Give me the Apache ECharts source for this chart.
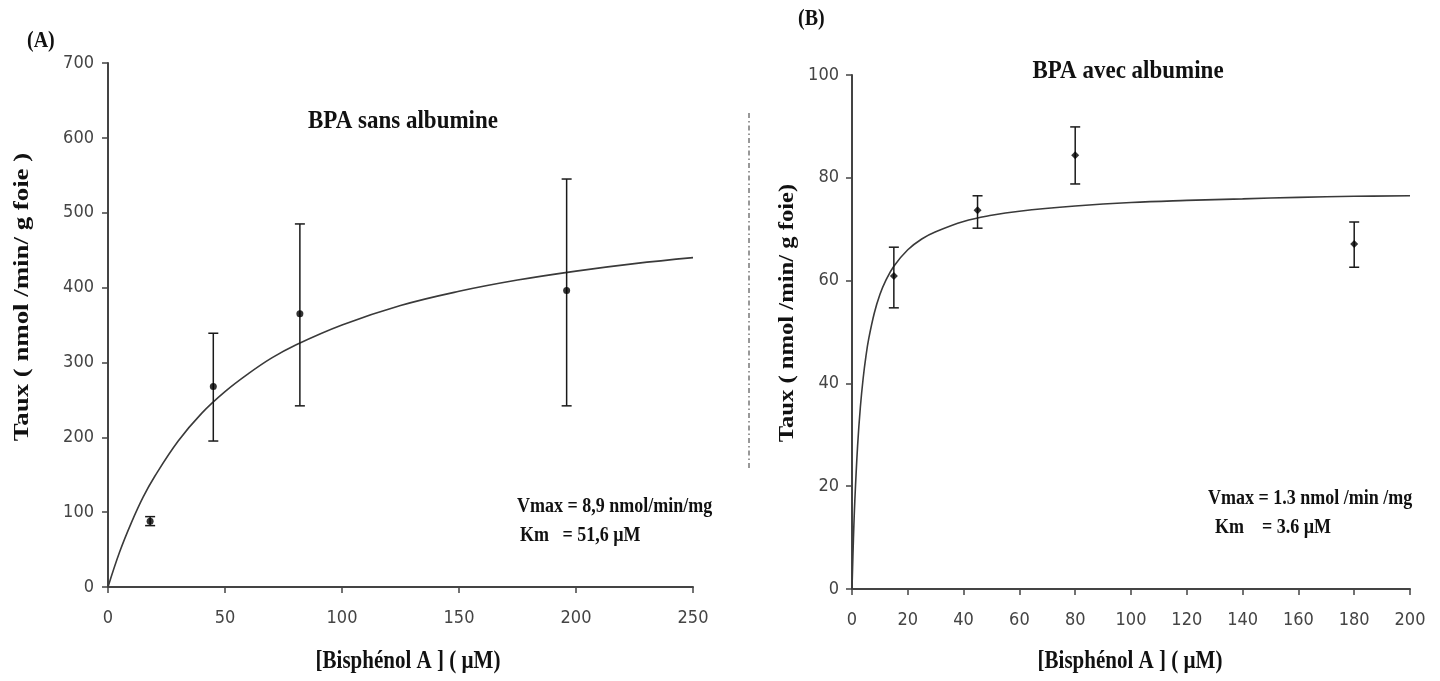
<!DOCTYPE html>
<html>
<head>
<meta charset="utf-8">
<script src="https://cdn.jsdelivr.net/npm/echarts@6/dist/echarts.min.js"></script>
<style>
html,body{margin:0;padding:0;background:#fff;}
#chart{width:1440px;height:681px;}
</style>
</head>
<body>
<div id="chart"></div>
<script>
// ---- Panel A : BPA sans albumine ----
const aPointX = [18, 45, 82, 196];
const aPointY = [88, 268, 365, 396];
const aErrLow = [82, 195, 242, 242];
const aErrHigh = [94, 339, 485, 545];
const aCurveX = [0, 5, 10, 15, 20, 30, 40, 50, 60, 70, 80, 100, 125, 150, 175, 200, 225, 250];
const aCurveY = [0, 47, 86, 120, 148, 195, 232, 261, 285, 306, 323, 350, 376, 395, 410, 422, 432, 440];
const aXTicks = [0, 50, 100, 150, 200, 250];
const aYTicks = [0, 100, 200, 300, 400, 500, 600, 700];

// ---- Panel B : BPA avec albumine ----
const bPointX = [15, 45, 80, 180];
const bPointY = [60.9, 73.7, 84.4, 67.1];
const bErrLow = [54.7, 70.2, 78.8, 62.6];
const bErrHigh = [66.5, 76.5, 89.9, 71.4];
const bCurveX = [0, 0.5, 1, 2, 3, 4, 5, 6, 8, 10, 12, 15, 20, 25, 30, 40, 50, 60, 80, 100, 120, 140, 160, 180, 200];
const bCurveY = [0, 9.5, 17, 27.8, 35.4, 41, 45.3, 48.7, 53.7, 57.3, 59.9, 62.8, 66, 68.1, 69.5, 71.5, 72.7, 73.5, 74.5, 75.2, 75.6, 75.9, 76.2, 76.4, 76.5];
const bXTicks = [0, 20, 40, 60, 80, 100, 120, 140, 160, 180, 200];
const bYTicks = [0, 20, 40, 60, 80, 100];

const tickFont = '"Liberation Sans Narrow","Arial Narrow","DejaVu Sans Condensed","Liberation Sans",sans-serif';
const serif = '"Liberation Serif","Times New Roman",serif';
const axisColor = '#444444';

function zip(xs, ys) { return xs.map((x, i) => [x, ys[i]]); }
function errData(xs, lo, hi) { return xs.map((x, i) => [x, lo[i], hi[i]]); }

function axisCfg(idx, ticks, margin) {
  return {
    type: 'value', gridIndex: idx,
    min: ticks[0], max: ticks[ticks.length - 1], interval: ticks[1] - ticks[0],
    axisLine: { show: true, onZero: false, lineStyle: { color: axisColor, width: 2 } },
    axisTick: { show: true, length: 6, lineStyle: { color: axisColor, width: 1.5 } },
    axisLabel: { color: '#444', fontFamily: tickFont, fontSize: 18, margin: margin },
    splitLine: { show: false }
  };
}

function errorSeries(idx, data) {
  return {
    type: 'custom', xAxisIndex: idx, yAxisIndex: idx, z: 3,
    data: data,
    renderItem: function (params, api) {
      const x = api.value(0);
      const lo = api.coord([x, api.value(1)]);
      const hi = api.coord([x, api.value(2)]);
      const cap = 5;
      const st = { stroke: '#1a1a1a', lineWidth: 1.5 };
      return {
        type: 'group',
        children: [
          { type: 'line', shape: { x1: lo[0], y1: lo[1], x2: hi[0], y2: hi[1] }, style: st },
          { type: 'line', shape: { x1: lo[0] - cap, y1: lo[1], x2: lo[0] + cap, y2: lo[1] }, style: st },
          { type: 'line', shape: { x1: hi[0] - cap, y1: hi[1], x2: hi[0] + cap, y2: hi[1] }, style: st }
        ]
      };
    }
  };
}

const chart = echarts.init(document.getElementById('chart'), null, { renderer: 'canvas' });

const boldSerif = (size) => ({ fontFamily: serif, fontWeight: 'bold', fontSize: size, fill: '#111' });
function txt(text, x, y, size, opts) {
  const o = opts || {};
  return {
    type: 'text', x: x, y: y,
    rotation: o.rotation || 0, scaleX: o.scaleX || 1, scaleY: o.scaleY || 1,
    style: Object.assign({ text: text, align: o.align || 'left', verticalAlign: 'middle' }, boldSerif(size))
  };
}

chart.setOption({
  animation: false,
  backgroundColor: '#ffffff',
  grid: [
    { left: 108, right: 747, top: 63, bottom: 94 },
    { left: 852, right: 30, top: 75, bottom: 92 }
  ],
  xAxis: [axisCfg(0, aXTicks, 22), axisCfg(1, bXTicks, 22)],
  yAxis: [axisCfg(0, aYTicks, 14), axisCfg(1, bYTicks, 13)],
  series: [
    { type: 'line', xAxisIndex: 0, yAxisIndex: 0, data: zip(aCurveX, aCurveY), smooth: 0.4, showSymbol: false,
      lineStyle: { color: '#3a3a3a', width: 1.6 }, z: 2 },
    errorSeries(0, errData(aPointX, aErrLow, aErrHigh)),
    { type: 'scatter', xAxisIndex: 0, yAxisIndex: 0, data: zip(aPointX, aPointY), symbol: 'circle', symbolSize: 7,
      itemStyle: { color: '#000' }, z: 4 },

    { type: 'line', xAxisIndex: 1, yAxisIndex: 1, data: zip(bCurveX, bCurveY), smooth: 0.4, showSymbol: false,
      lineStyle: { color: '#3a3a3a', width: 1.6 }, z: 2 },
    errorSeries(1, errData(bPointX, bErrLow, bErrHigh)),
    { type: 'scatter', xAxisIndex: 1, yAxisIndex: 1, data: zip(bPointX, bPointY), symbol: 'diamond', symbolSize: 8,
      itemStyle: { color: '#000' }, z: 4 }
  ],
  graphic: [
    txt('(A)', 27, 41, 20, { scaleY: 1.2 }),
    txt('(B)', 798, 19, 20, { scaleY: 1.2 }),
    txt('BPA sans albumine', 403, 121, 23, { align: 'center', scaleY: 1.12 }),
    txt('BPA avec albumine', 1128, 71, 23, { align: 'center', scaleY: 1.12 }),
    txt('[Bisphénol A ] ( µM)', 408, 662, 21, { align: 'center', scaleY: 1.15 }),
    txt('[Bisphénol A ] ( µM)', 1130, 662, 21, { align: 'center', scaleY: 1.15 }),
    txt('Taux ( nmol /min/ g foie )', 22, 297, 22, { align: 'center', rotation: Math.PI / 2, scaleX: 1.22 }),
    txt('Taux ( nmol /min/ g foie)', 787, 313, 22, { align: 'center', rotation: Math.PI / 2, scaleX: 1.12 }),
    txt('Vmax = 8,9 nmol/min/mg', 517, 506, 18, { scaleY: 1.2 }),
    txt('Km   = 51,6 µM', 520, 535, 18, { scaleY: 1.2 }),
    txt('Vmax = 1.3 nmol /min /mg', 1208, 498, 18, { scaleY: 1.2 }),
    txt('Km    = 3.6 µM', 1215, 527, 18, { scaleY: 1.2 }),
    { type: 'line', shape: { x1: 749, y1: 113, x2: 749, y2: 468 }, style: { stroke: '#333', lineWidth: 1, lineDash: [5, 3, 1.5, 3] } }
  ]
});
</script>
</body>
</html>
